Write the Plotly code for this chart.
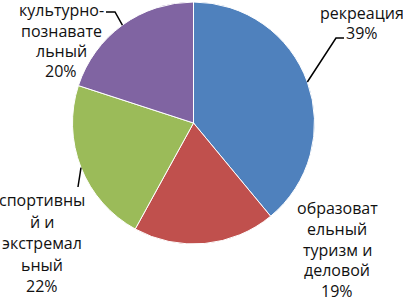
import math
import plotly.graph_objects as go

# ---- data ----
categories = ["рекреация", "образовательный туризм и деловой",
              "спортивный и экстремальный", "культурно-познавательный"]
values = [39, 19, 22, 20]
label_lines = [
    ["рекреация"],
    ["образоват", "ельный", "туризм и", "деловой"],
    ["спортивны", "й и", "экстремал", "ьный"],
    ["культурно-", "познавате", "льный"],
]
colors = ["#4F81BD", "#C0504D", "#9BBB59", "#8064A2"]

# ---- layout (pixels) ----
W, H = 403, 302
cx, cy, r = 193.5, 123.0, 121.0
# label block: (center x, first line center y, line spacing)
label_pos = [(362, 13, 20), (337, 208, 20.8), (42, 200, 21.5), (61, 10, 20.5)]
# leader line start points (label side), elbow points; None = no leader line
leader_start = [(344, 38), None, (78, 187), (106, 12)]
leader_elbow = [(336, 38), None, None, (115, 12)]

def px(x):
    return x / W

def py(y):
    return 1 - y / H

fig = go.Figure(go.Pie(
    labels=categories, values=values, sort=False, direction="clockwise",
    rotation=0, marker=dict(colors=colors, line=dict(color="white", width=1)),
    textinfo="none", hoverinfo="label+percent", showlegend=False,
    domain=dict(x=[px(cx - r), px(cx + r)], y=[py(cy + r), py(cy - r)]),
))

font = dict(family="Open Sans, Liberation Sans, sans-serif", size=16, color="#111111")
annotations = []
total = sum(values)
cum = 0
shapes = []
for i, v in enumerate(values):
    lines = label_lines[i] + [f"{round(100 * v / total)}%"]
    lx, ly0, dy = label_pos[i]
    for k, t in enumerate(lines):
        annotations.append(dict(
            x=px(lx), y=py(ly0 + k * dy), xref="paper", yref="paper",
            text=t, showarrow=False, font=font, xanchor="center", yanchor="middle"))
    mid = (cum + v / 2) / total * 2 * math.pi
    cum += v
    if leader_start[i] is not None:
        ex, ey = cx + r * math.sin(mid), cy - r * math.cos(mid)
        pts = [leader_start[i]]
        if leader_elbow[i] is not None:
            pts.append(leader_elbow[i])
        pts.append((ex, ey))
        path = "M " + " L ".join(f"{px(a):.4f},{py(b):.4f}" for a, b in pts)
        shapes.append(dict(type="path", xref="paper", yref="paper", path=path,
                           line=dict(color="black", width=1.5)))

fig.update_layout(
    width=W, height=H, margin=dict(l=0, r=0, t=0, b=0),
    paper_bgcolor="white", plot_bgcolor="white",
    annotations=annotations, shapes=shapes,
)
fig.write_html("out.html", config={"displayModeBar": False},
               post_script="document.body.style.margin='0';")
